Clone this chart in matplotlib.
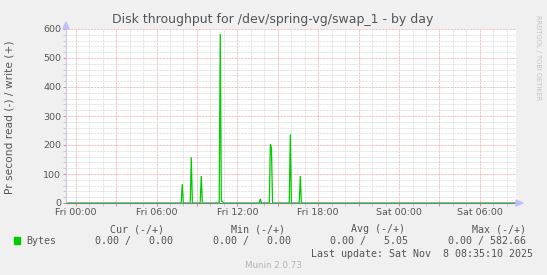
import matplotlib
matplotlib.use("Agg")
import matplotlib.pyplot as plt
from matplotlib.patches import Polygon, Rectangle

# hours since Fri 00:00 and write rate (bytes/s) for the visible samples
hours = [-0.72, 7.83, 7.91, 7.99, 8.50, 8.58, 8.66, 9.24, 9.32, 9.40,
         10.65, 10.73, 10.81, 10.89, 10.97, 13.62, 13.70, 13.78,
         14.37, 14.45, 14.53, 14.61, 15.85, 15.93, 16.01, 16.59, 16.67, 16.75, 32.68]
write_bytes = [0, 0, 65, 0, 0, 158, 0, 0, 93, 0,
               0, 583, 6, 6, 0, 0, 14, 0,
               0, 202, 190, 0, 0, 237, 0, 0, 93, 0, 0]

x_labels = ["Fri 00:00", "Fri 06:00", "Fri 12:00", "Fri 18:00", "Sat 00:00", "Sat 06:00"]
y_ticks = [0, 100, 200, 300, 400, 500, 600]

headers = ["Cur (-/+)", "Min (-/+)", "Avg (-/+)", "Max (-/+)"]
values = ["0.00 /   0.00", "0.00 /   0.00", "0.00 /   5.05", "0.00 / 582.66"]

W, H = 547, 275
BG = "#f0f0f0"
TXT = "#555555"
MONO = "DejaVu Sans Mono"

fig = plt.figure(figsize=(W / 100, H / 100), dpi=100, facecolor=BG)

def px(x, y):
    return x / W, 1 - y / H

left, right, top, bottom = 66, 516, 29, 203
ax = fig.add_axes([left / W, 1 - bottom / H, (right - left) / W, (bottom - top) / H])
ax.set_facecolor("white")

ax.plot(hours, write_bytes, color="#00cc00", lw=0.9, solid_joinstyle="miter")
ax.axhline(0, color="#7f7f9a", lw=0.8)

ax.set_xlim(-0.72, 32.68)
ax.set_ylim(0, 600)

major_x = list(range(0, 33, 3))
ax.set_xticks(major_x)
ax.set_xticklabels([x_labels[i // 2] if i % 2 == 0 else "" for i in range(len(major_x))])
ax.set_xticks(range(0, 33), minor=True)
ax.set_yticks(y_ticks)
ax.set_yticks(range(0, 601, 20), minor=True)

dots = (0, (0.72, 0.72))
ax.grid(which="minor", color="#dadada", lw=0.72, linestyle=dots, snap=True)
ax.grid(which="major", color="#f4a8a8", lw=0.72, linestyle=dots, snap=True)
ax.set_axisbelow(True)

ax.tick_params(which="major", length=2, width=0.7, color="#f08080",
               labelsize=6.8, labelcolor=TXT, pad=1.5)
ax.tick_params(which="minor", length=2, width=0.7, color="#c8c8c8")

for s in ("top", "right"):
    ax.spines[s].set_visible(False)
ax.spines["left"].set_color("#c8c8f0")
ax.spines["bottom"].set_color("#7f7f9a")

# axis arrows
fig.patches.append(Polygon([px(63, 29), px(69, 29), px(66, 22)], closed=True,
                           transform=fig.transFigure, color="#c0c0f8"))
fig.patches.append(Polygon([px(516, 200), px(516, 206), px(523, 203)], closed=True,
                           transform=fig.transFigure, color="#c0c0f8"))

fig.text(*px(273, 19), "Disk throughput for /dev/spring-vg/swap_1 - by day",
         ha="center", va="center", fontsize=9.0, color=TXT)
fig.text(*px(10, 117), "Pr second read (-) / write (+)", rotation=90,
         ha="center", va="center", fontsize=7.7, color=TXT)
fig.text(*px(538, 15), "RRDTOOL / TOBI OETIKER", rotation=270,
         ha="center", va="top", fontsize=4.8, color="#c4c4c4")

# legend
head_x = [164, 285, 405, 526]
val_x = [173, 291, 408, 526]
for hx, h in zip(head_x, headers):
    fig.text(*px(hx, 229), h, ha="right", va="center", family=MONO, fontsize=7.2, color=TXT)
fig.patches.append(Rectangle(px(14, 244), 6 / W, 7 / H, transform=fig.transFigure,
                             color="#00cc00"))
fig.text(*px(26, 241), "Bytes", ha="left", va="center", family=MONO, fontsize=7.2, color=TXT)
for vx, v in zip(val_x, values):
    fig.text(*px(vx, 241), v, ha="right", va="center", family=MONO, fontsize=7.2, color=TXT)
fig.text(*px(533, 254), "Last update: Sat Nov  8 08:35:10 2025", ha="right", va="center",
         family=MONO, fontsize=7.2, color=TXT)
fig.text(*px(273, 266), "Munin 2.0.73", ha="center", va="center", fontsize=6.3, color="#b4b4b4")

fig.savefig("out.png", dpi=100, facecolor=BG)
